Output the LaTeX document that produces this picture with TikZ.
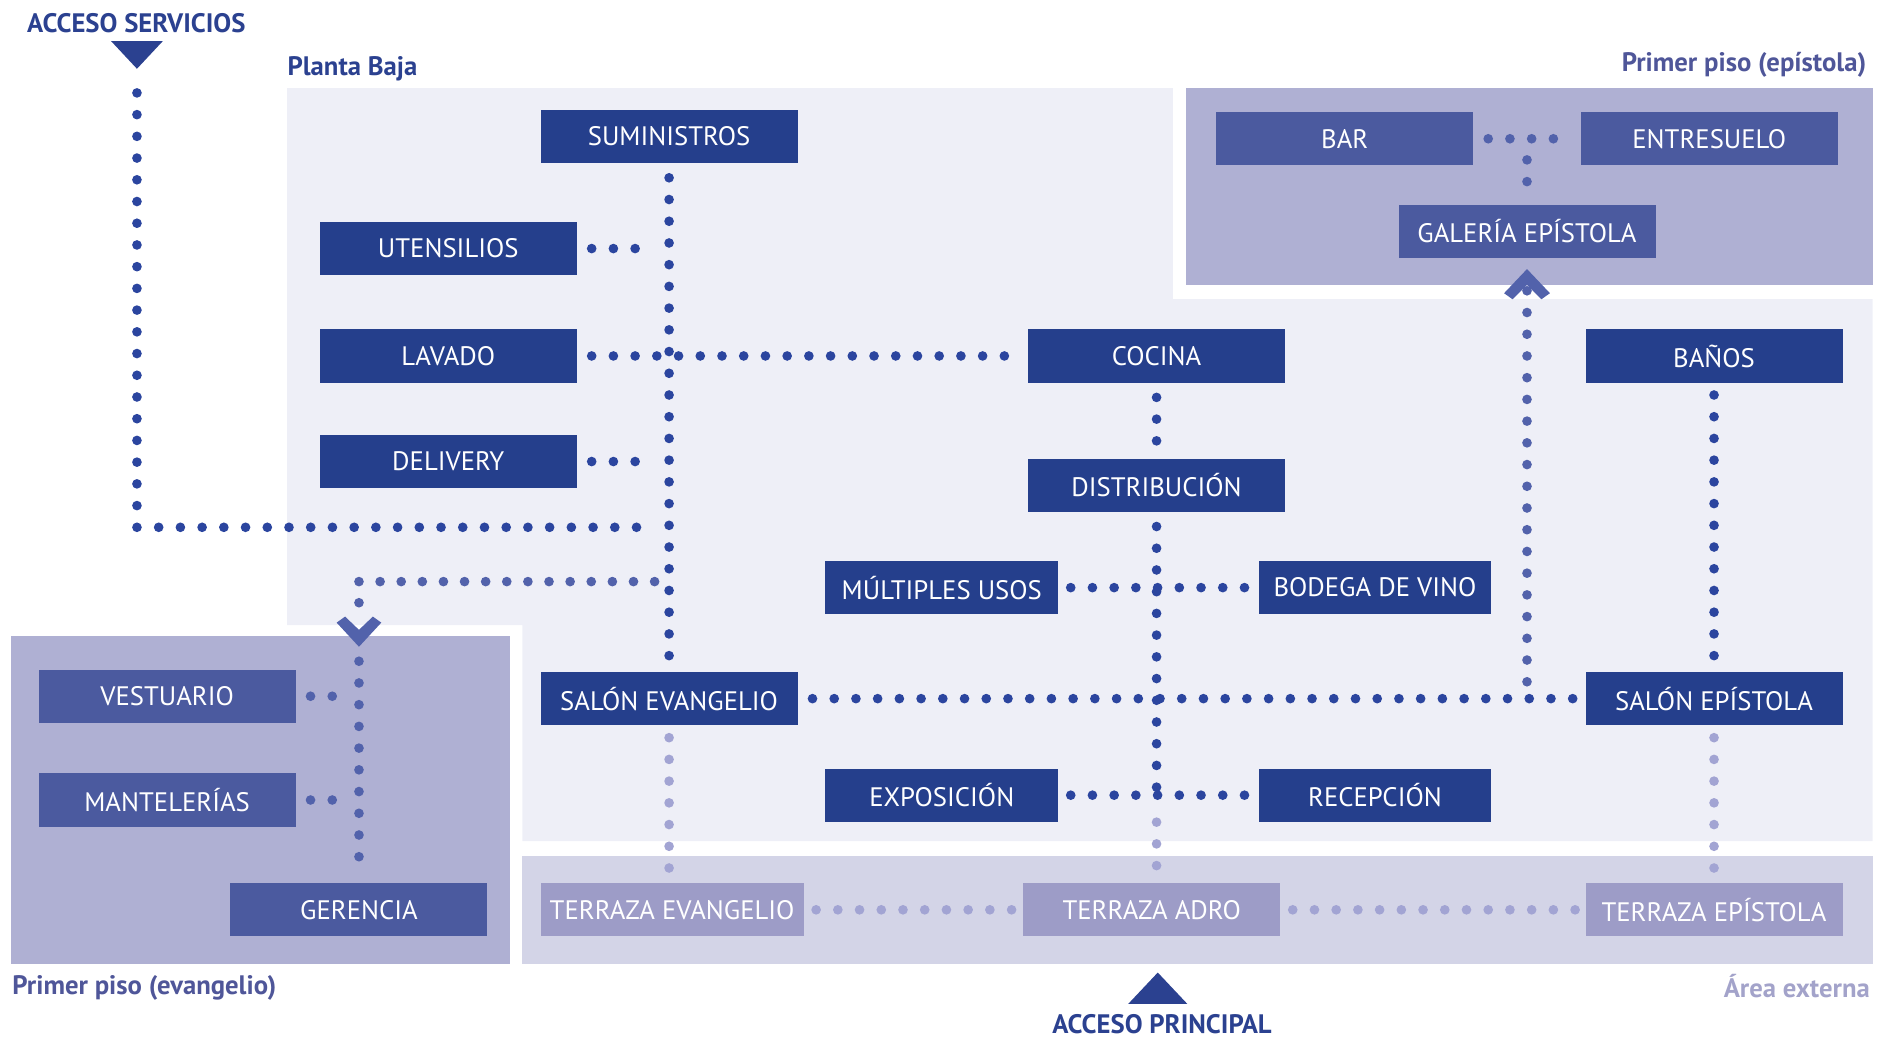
\documentclass[tikz,border=0pt]{standalone}
\usepackage{fontspec}
\setmainfont{PT Sans}
\usetikzlibrary{calc}
\definecolor{ground}{HTML}{EEEFF7}
\definecolor{upperfill}{HTML}{AFB0D3}
\definecolor{outfill}{HTML}{D3D4E7}
\definecolor{roomfill}{HTML}{253F8C}
\definecolor{upperbox}{HTML}{4B5A9F}
\definecolor{terrbox}{HTML}{9D9CC7}
\definecolor{dotdark}{HTML}{2B459F}
\definecolor{dotmid}{HTML}{5262AB}
\definecolor{dotlight}{HTML}{A2A4D3}
\definecolor{navy}{HTML}{2B4190}
\definecolor{violet}{HTML}{4F5699}
\definecolor{lilac}{HTML}{A3A3CA}
\newcommand{\twelve}{\fontsize{12.6}{15}\selectfont}
\tikzset{
 every node/.append style={font=\twelve,align=center},
 room/.style={fill=roomfill,text=white,minimum width=42.6mm,minimum height=8.8mm,inner sep=0pt},
 short/.style={room,minimum width=38.6mm},
 upper/.style={room,fill=upperbox},
 terrace/.style={room,fill=terrbox},
 tag/.style={font=\twelve\bfseries,inner sep=0pt},
 walk/.style={draw=dotdark,line width=1.6mm,line cap=round,dash pattern=on 0pt off 3.6mm,shorten <=2.4mm,shorten >=2.4mm},
 stair/.style={walk,draw=dotmid},
 outside/.style={walk,draw=dotlight,shorten <=2mm,shorten >=1.6mm},
 marker/.style={fill=navy},
 chevron/.style={fill=dotmid},
}
\begin{document}
\begin{tikzpicture}[x=0.2mm,y=-0.2mm]

\useasboundingbox (0,0) rectangle (1568,860);
% zones
\fill[ground] (238,73) -- (972,73) -- (972,248) -- (1552,248) -- (1552,697) -- (433,697) -- (433,518) -- (238,518) -- cycle;
\fill[upperfill] (983,73) rectangle (1552,236);
\fill[upperfill] (9,527) rectangle (423,799);
\fill[outfill] (433,709) rectangle (1552,799);
\node[tag,text=navy,anchor=west] (baja) at (238,57) {Planta Baja};
\node[tag,text=violet,anchor=east] (episup) at (1547,54) {Primer piso (epístola)};
\node[tag,text=violet,anchor=west] (evasup) at (10,819) {Primer piso (evangelio)};
\node[tag,text=lilac,anchor=east] (externa) at (1550,817) {Área externa};
\node[tag,text=navy] (servicios) at (113,19) {ACCESO SERVICIOS};
\node[tag,text=navy] (principal) at (963,849) {ACCESO PRINCIPAL};
\fill[marker] (92,34) -- (135,34) -- (113.5,57) -- cycle;
\fill[marker] (935,832) -- (984,832) -- (959.5,806) -- cycle;

% planta baja
\node[room] (suministros) at (554.5,113) {SUMINISTROS};
\node[room] (utensilios) at (371.5,206) {UTENSILIOS};
\node[room] (lavado) at (371.5,295) {LAVADO};
\node[room] (delivery) at (371.5,382.5) {DELIVERY};
\node[room] (cocina) at (958.5,295) {COCINA};
\node[room] (distribucion) at (958.5,402) {DISTRIBUCIÓN};
\node[short] (multiples) at (780.5,487) {MÚLTIPLES USOS};
\node[short] (bodega) at (1139.5,487) {BODEGA DE VINO};
\node[room] (salonev) at (554.5,579) {SALÓN EVANGELIO};
\node[room] (salonep) at (1420.5,579) {SALÓN EPÍSTOLA};
\node[room] (banos) at (1420.5,295) {BAÑOS};
\node[short] (exposicion) at (780.5,659) {EXPOSICIÓN};
\node[short] (recepcion) at (1139.5,659) {RECEPCIÓN};
% primer piso
\node[upper] (bar) at (1114.5,115) {BAR};
\node[upper] (entresuelo) at (1416.5,115) {ENTRESUELO};
\node[upper] (galeria) at (1265.5,191.5) {GALERÍA EPÍSTOLA};
\node[upper] (vestuario) at (138.5,577) {VESTUARIO};
\node[upper] (mantelerias) at (138.5,663) {MANTELERÍAS};
\node[upper] (gerencia) at (297.5,754) {GERENCIA};
% area externa
\node[terrace,minimum width=43.6mm] (terev) at (557,754) {TERRAZA EVANGELIO};
\node[terrace] (teradro) at (954.5,754) {TERRAZA ADRO};
\node[terrace] (terep) at (1420.5,754) {TERRAZA EPÍSTOLA};

\coordinate (servdoor) at (113.5,57);
\coordinate (servturn) at (554.5,437);
\coordinate (evturn) at (554.5,482);
\coordinate (evdoor) at (297.5,522);
\coordinate (epdoor) at (1265.5,236);

\draw[walk,shorten <=4mm] (servdoor) |- (servturn);
\draw[walk] (suministros) -- (salonev);
\draw[walk] (utensilios) -- (utensilios -| suministros);
\draw[walk] (lavado) -- (cocina);
\draw[walk] (delivery) -- (delivery -| suministros);
\draw[walk] (cocina) -- (distribucion);
\draw[walk,shorten >=0pt] (distribucion) -- (distribucion |- recepcion);
\draw[outside,shorten <=0pt] (distribucion |- exposicion.south) -- (distribucion |- teradro.north);
\draw[walk,shorten <=2mm,shorten >=2mm] (multiples) -- (bodega);
\draw[walk,shorten <=2mm,shorten >=2mm] (exposicion) -- (recepcion);
\draw[walk,shorten >=2mm] (salonev) -- (salonep);
\draw[walk,shorten <=2mm] (banos) -- (salonep);
\draw[outside] (salonev) -- (salonev |- terev.north);
\draw[outside] (salonep) -- (terep);
\draw[outside] (terev) -- (teradro);
\draw[outside] (teradro) -- (terep);
\draw[stair] (bar) -- (entresuelo);
\draw[stair,shorten <=3.5mm] (bar -| galeria) -- (galeria);
\draw[stair,shorten <=1mm] (epdoor) -- (epdoor |- salonep);
\draw[stair,dash pattern=on 0pt off 3.5mm] (evturn) -| (evdoor);
\draw[stair,shorten <=5.2mm] (evdoor) -- (gerencia);
\draw[stair] (vestuario) -- (vestuario -| gerencia);
\draw[stair] (mantelerias) -- (mantelerias -| gerencia);
\fill[chevron] (evdoor) -- ++(11.5,-11) -- ++(7,5) -- ++(-18.5,20) -- ++(-18.5,-20) -- ++(7,-5) -- cycle;
\fill[chevron] (epdoor) -- ++(12,12) -- ++(7,-5) -- ++(-19,-20) -- ++(-19,20) -- ++(7,5) -- cycle;

\end{tikzpicture}
\end{document}
